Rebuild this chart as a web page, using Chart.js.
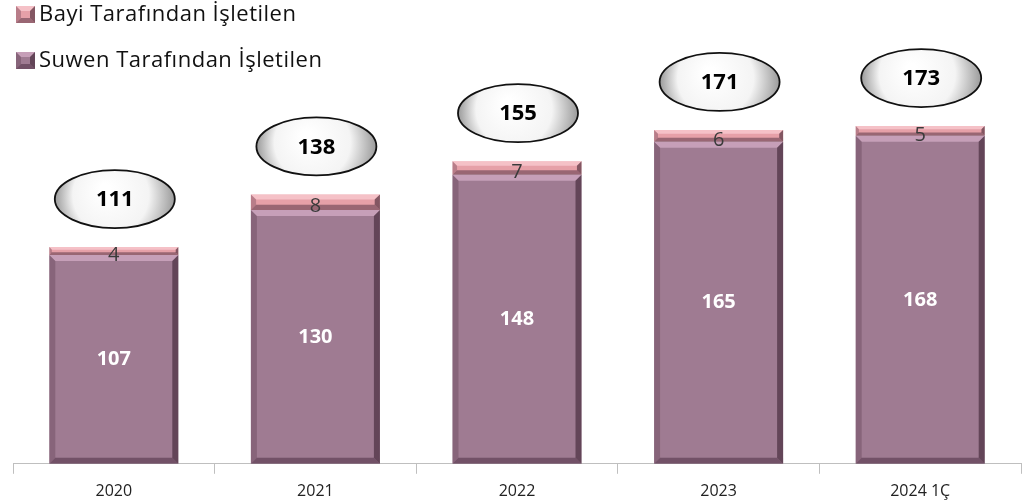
<!DOCTYPE html>
<html>
<head>
<meta charset="utf-8">
<script src="https://cdn.jsdelivr.net/npm/chart.js@4.4.1/dist/chart.umd.min.js"></script>
<style>
  html, body { margin: 0; padding: 0; background: #fff; }
  #wrap { width: 1025px; height: 503px; }
</style>
</head>
<body>
<div id="wrap"><canvas id="chart"></canvas></div>
<script>
const years = ['2020', '2021', '2022', '2023', '2024 1Ç'];
const suwenValues = [107, 130, 148, 165, 168];
const bayiValues = [4, 8, 7, 6, 5];
const totals = [111, 138, 155, 171, 173];
const seriesNames = ['Suwen Tarafından İşletilen', 'Bayi Tarafından İşletilen'];

const FONT = '"Open Sans", "Noto Sans", sans-serif';

function bevelRect(ctx, left, top, right, bottom, bev, light) {
    // 위쪽 밝은 면
    ctx.fillStyle = light;
    ctx.beginPath();
    ctx.moveTo(left, top);
    ctx.lineTo(right, top);
    ctx.lineTo(right - bev, top + bev);
    ctx.lineTo(left + bev, top + bev);
    ctx.closePath();
    ctx.fill();
    // 오른쪽 어두운 면
    ctx.fillStyle = 'rgba(50,25,40,0.55)';
    ctx.beginPath();
    ctx.moveTo(right, top);
    ctx.lineTo(right, bottom);
    ctx.lineTo(right - bev, bottom - bev);
    ctx.lineTo(right - bev, top + bev);
    ctx.closePath();
    ctx.fill();
    // 아래쪽 어두운 면
    ctx.fillStyle = 'rgba(60,30,50,0.45)';
    ctx.beginPath();
    ctx.moveTo(left, bottom);
    ctx.lineTo(right, bottom);
    ctx.lineTo(right - bev, bottom - bev);
    ctx.lineTo(left + bev, bottom - bev);
    ctx.closePath();
    ctx.fill();
    // 왼쪽 면
    ctx.fillStyle = 'rgba(80,45,65,0.3)';
    ctx.beginPath();
    ctx.moveTo(left, top);
    ctx.lineTo(left + bev, top + bev);
    ctx.lineTo(left + bev, bottom - bev);
    ctx.lineTo(left, bottom);
    ctx.closePath();
    ctx.fill();
}

// 값 라벨 + 합계 타원 + 입체감 + 범례
const decorPlugin = {
    id: 'decor',
    afterDatasetsDraw(chart) {
        const ctx = chart.ctx;
        const base = chart.getDatasetMeta(0).data;
        const top = chart.getDatasetMeta(1).data;

        ctx.save();
        [base, top].forEach((bars, di) => {
            bars.forEach(bar => {
                const h = bar.base - bar.y;
                bevelRect(ctx, bar.x - bar.width / 2, bar.y, bar.x + bar.width / 2, bar.base,
                    Math.min(6, h / 3),
                    di === 0 ? 'rgba(230,190,215,0.55)' : 'rgba(255,215,220,0.6)');
            });
        });

        ctx.textAlign = 'center';
        ctx.textBaseline = 'middle';
        base.forEach((bar, i) => {
            ctx.fillStyle = '#ffffff';
            ctx.font = 'bold 20px ' + FONT;
            ctx.fillText(suwenValues[i], bar.x, (bar.y + bar.base) / 2);
        });
        top.forEach((bar, i) => {
            ctx.fillStyle = '#3a3a3a';
            ctx.font = '20px ' + FONT;
            ctx.fillText(bayiValues[i], bar.x, (bar.y + bar.base) / 2 + 4);

            // 합계 타원
            const cx = bar.x + 1;
            const cy = bar.y - 48;
            const rx = 60, ry = 29;
            const g = ctx.createRadialGradient(cx - 10, cy - 10, 5, cx, cy, rx);
            g.addColorStop(0, '#ffffff');
            g.addColorStop(0.6, '#f4f4f4');
            g.addColorStop(1, '#9a9a9a');
            ctx.fillStyle = g;
            ctx.beginPath();
            ctx.ellipse(cx, cy, rx, ry, 0, 0, Math.PI * 2);
            ctx.fill();
            ctx.lineWidth = 1.8;
            ctx.strokeStyle = '#111';
            ctx.stroke();
            ctx.fillStyle = '#000';
            ctx.font = 'bold 22px ' + FONT;
            ctx.fillText(totals[i], cx, cy + 1);
        });

        // 범례 (위: Bayi, 아래: Suwen)
        const legendRows = [
            { name: seriesNames[1], color: chart.data.datasets[1].backgroundColor, light: 'rgba(255,215,220,0.6)', y: 14 },
            { name: seriesNames[0], color: chart.data.datasets[0].backgroundColor, light: 'rgba(230,190,215,0.55)', y: 60 }
        ];
        legendRows.forEach(row => {
            ctx.fillStyle = row.color;
            ctx.fillRect(16, row.y - 8, 19, 17);
            bevelRect(ctx, 16, row.y - 8, 35, row.y + 9, 5, row.light);
            ctx.fillStyle = '#111';
            ctx.font = '22px ' + FONT;
            ctx.textAlign = 'left';
            ctx.letterSpacing = '0.5px';
            ctx.fillText(row.name, 39, row.y + 1);
            ctx.letterSpacing = '0px';
        });
        ctx.restore();
    }
};

new Chart(document.getElementById('chart'), {
    type: 'bar',
    data: {
        labels: years,
        datasets: [
            {
                label: seriesNames[0],
                data: suwenValues,
                backgroundColor: '#9f7b92',
                borderWidth: 0,
                barPercentage: 0.64,
                categoryPercentage: 1
            },
            {
                label: seriesNames[1],
                data: bayiValues,
                backgroundColor: '#e6a0a8',
                borderWidth: 0,
                barPercentage: 0.64,
                categoryPercentage: 1
            }
        ]
    },
    options: {
        responsive: true,
        maintainAspectRatio: false,
        animation: false,
        layout: { padding: { left: 13, right: 4, top: 5, bottom: -6 } },
        scales: {
            x: {
                stacked: true,
                grid: { drawOnChartArea: false, color: '#bfbfbf', tickLength: 10 },
                border: { color: '#bfbfbf', width: 1 },
                ticks: { color: '#222', font: { family: FONT, size: 16 }, padding: 8 }
            },
            y: {
                stacked: true,
                display: false,
                min: 0,
                max: 235
            }
        },
        plugins: {
            tooltip: { enabled: false },
            legend: { display: false }
        }
    },
    plugins: [decorPlugin]
});
</script>
</body>
</html>
